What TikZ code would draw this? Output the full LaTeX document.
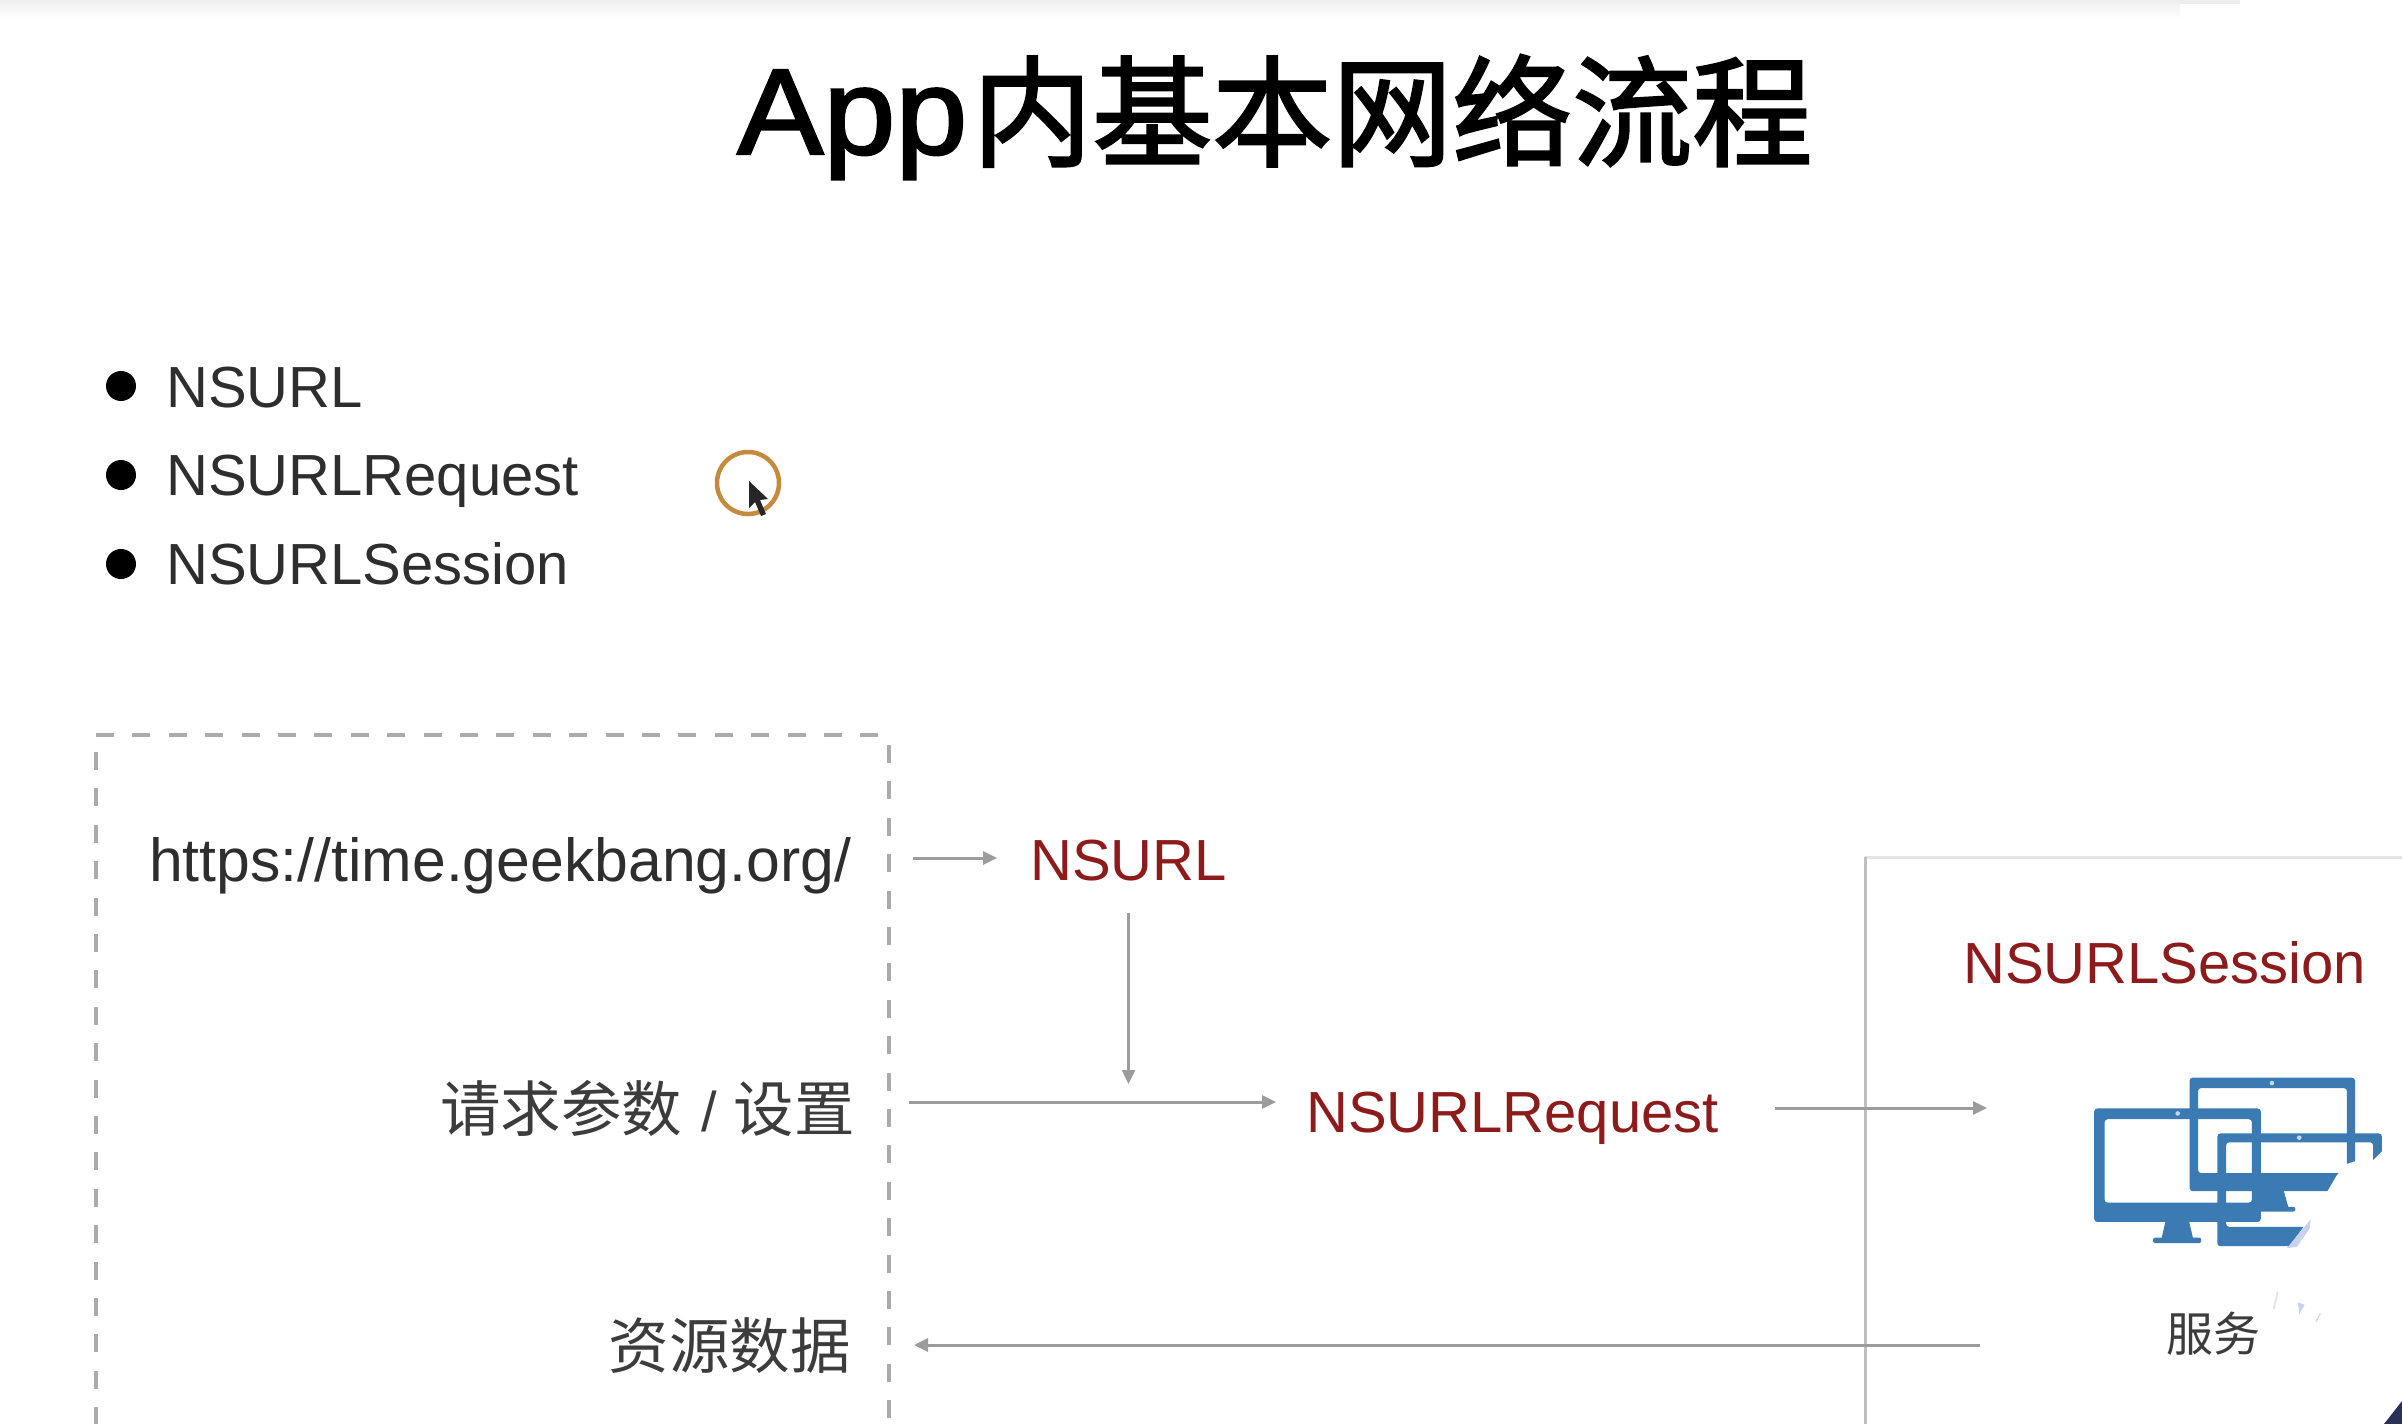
\documentclass[tikz,border=0pt]{standalone}
\usepackage{fontspec}
\setmainfont{Liberation Sans}
\newfontfamily\cjk{Noto Sans CJK SC}
\newfontfamily\titlelatin[FakeBold=2,FakeStretch=1.06]{Liberation Sans}
\newfontfamily\titlecjk[FakeBold=2]{Noto Sans CJK SC}
\usetikzlibrary{arrows.meta}
\definecolor{linegrey}{HTML}{9C9C9C}
\definecolor{dashgrey}{HTML}{ABABAB}
\definecolor{urlred}{HTML}{8E1B1B}
\definecolor{bodytext}{HTML}{2E2E2E}
\definecolor{cjktext}{HTML}{3C3C3C}
\definecolor{screenblue}{HTML}{3B7AB3}
\definecolor{navy}{HTML}{2B3058}
\definecolor{ringorange}{HTML}{C68A3C}
\definecolor{sliver}{HTML}{C6D2EE}
\definecolor{stripgrey}{HTML}{EEEEEE}
\tikzset{
  lbl/.style={inner sep=0pt,anchor=base west,font=\fontsize{#1}{#1}\selectfont},
  listitem/.style={lbl=58,text=bodytext},
  redlabel/.style={lbl=58,text=urlred},
  cjklabel/.style={inner sep=0pt,anchor=base east,text=cjktext,font=\cjk\fontsize{60.5}{60.5}\selectfont},
  bulletdot/.style={circle,fill=black,inner sep=0pt,minimum size=30pt},
  arr/.style={draw=linegrey,line width=3pt,-{Triangle[length=14pt,width=13pt]}},
  dashline/.style={draw=dashgrey,line width=3.5pt,dash pattern=on 18pt off 18.4pt},
  frame/.style={fill=screenblue,even odd rule},
}
\begin{document}
\begin{tikzpicture}[x=1pt,y=-1pt]
\useasboundingbox (0,0) rectangle (2402,1424);
\fill[white] (0,0) rectangle (2402,1424);
\shade[top color=stripgrey,bottom color=white] (0,0) rectangle (2180,18);
\fill[stripgrey] (2180,0) rectangle (2240,4);
% title
\node[inner sep=0pt,anchor=base west,text=black] (title) at (737,154)
  {{\titlelatin\fontsize{122}{122}\selectfont App}\hspace{5pt}\raisebox{-3pt}{\titlecjk\fontsize{120}{120}\selectfont 内基本网络流程}};
% list
\node[bulletdot] (b1) at (121,386) {};
\node[bulletdot] (b2) at (121,475) {};
\node[bulletdot] (b3) at (121,564) {};
\node[listitem] (l1) at (166,407) {NSURL};
\node[listitem] (l2) at (166,495) {NSURLRequest};
\node[listitem] (l3) at (166,584) {NSURLSession};
% pointer
\node[circle,draw=ringorange,line width=4.5pt,inner sep=0pt,minimum size=62pt] (ring) at (748,483) {};
\fill[black!85] (749,481) -- (749,508) -- (755,502) -- (761,516) -- (766,514) -- (760,500) -- (768,499) -- cycle;
% dashed client box
\draw[dashline] (96,735) -- (889,735);
\draw[dashline] (96,752) -- (96,1424);
\draw[dashline] (889,745) -- (889,1424);
% server box
\draw[draw=black!10,line width=3pt] (1865,857) -- (2402,857);
\draw[draw=black!25,line width=3pt] (1865,857) -- (1865,1424);
% labels
\node[lbl=60.7,text=bodytext] (url) at (149,881) {https://time.geekbang.org/};
\node[redlabel] (nsurl) at (1030,880) {NSURL};
\node[redlabel] (req) at (1306,1132) {NSURLRequest};
\node[redlabel] (sess) at (1963,983) {NSURLSession};
\node[cjklabel] (params) at (855,1131) {请求参数\hspace{6pt} {\rmfamily\fontsize{56}{56}\selectfont /}\hspace{3pt} 设置};
\node[cjklabel] (data) at (851,1368) {资源数据};
\node[cjklabel,font=\cjk\fontsize{47}{47}\selectfont] (srv) at (2261,1351) {服务};
% connectors
\draw[arr] ([shift={(62pt,23pt)}]url.base east) -- ([shift={(-33pt,22pt)}]nsurl.base west);
\draw[arr,line width=2.5pt] ([yshift=-32pt]nsurl.south) -- ([yshift=48pt]nsurl.south |- req.base);
\draw[arr] ([shift={(54pt,29pt)}]params.base east) -- ([shift={(-30pt,30pt)}]req.base west);
\draw[arr] ([shift={(56pt,24pt)}]req.base east) -- (1987,1108) coordinate (srvin);
\coordinate (srvout) at (1980,1345);
\draw[arr] (srvout) -- ([shift={(63pt,23pt)}]data.base east);
% monitors
\begin{scope}[shift={(1800,820)},x=0.3846pt,y=-0.3846pt]
 \fill[frame,rounded corners=3pt] (765,750) rectangle (1198,1045) (792,778) rectangle (1175,995);
 \fill[screenblue] (950,1045) -- (1012,1045) -- (1022,1088) -- (940,1088) -- cycle;
 \fill[screenblue,rounded corners=2pt] (918,1086) rectangle (1043,1100);
 \fill[frame,rounded corners=3pt] (1013,670) rectangle (1443,965) (1035,697) rectangle (1422,918);
 \fill[screenblue] (1198,965) -- (1258,965) -- (1270,1008) -- (1190,1008) -- cycle;
 \fill[screenblue,rounded corners=2pt] (1175,1006) rectangle (1288,1018);
 \fill[frame,rounded corners=3pt] (1085,815) rectangle (1513,1108) (1108,838) rectangle (1490,1058);
 \fill[white!70!screenblue] (982,763) circle (6);
 \fill[white!70!screenblue] (1227,684) circle (6);
 \fill[white!70!screenblue] (1298,826) circle (6);
 \fill[white] (1530,845) -- (1490,885) -- (1450,885) -- (1420,895) -- (1395,925) -- (1360,985) -- (1330,1030) -- (1270,1112) -- (1270,1135) -- (1535,1135) -- cycle;
 \fill[sliver] (1328,1038) -- (1325,1062) -- (1292,1110) -- (1266,1113) -- cycle;
 \fill[sliver] (1295,1255) -- (1312,1260) -- (1298,1285) -- cycle;
 \fill[sliver!60] (1240,1225) -- (1244,1228) -- (1234,1272) -- (1230,1270) -- cycle;
 \fill[sliver] (1352,1282) -- (1354,1284) -- (1342,1306) -- (1340,1304) -- cycle;
\end{scope}
% corner
\fill[navy] (2384,1424) -- (2402,1401) -- (2402,1424) -- cycle;
\end{tikzpicture}
\end{document}
